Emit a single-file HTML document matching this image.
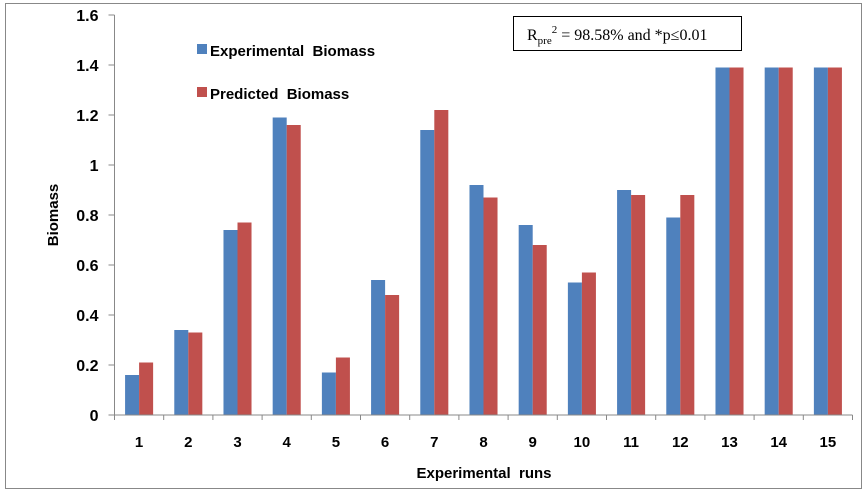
<!DOCTYPE html>
<html><head><meta charset="utf-8"><style>
body{margin:0;background:#fff;}
svg{display:block;font-family:"Liberation Sans",Arial,sans-serif;}
text{white-space:pre;}
</style></head><body>
<svg id="c" width="867" height="493">
<rect x="5.5" y="3.5" width="856" height="485" fill="#fff" stroke="#888" stroke-width="1"/>
<g id="plot"></g>
<g>
<rect x="197" y="44" width="10" height="10" fill="#4f81bd"/>
<text x="210" y="56" font-size="15" font-weight="bold">Experimental  Biomass</text>
<rect x="197" y="87" width="10" height="10" fill="#c0504d"/>
<text x="210" y="99" font-size="15" font-weight="bold">Predicted  Biomass</text>
</g>
<g>
<rect x="513.5" y="16.5" width="228" height="34" fill="#fff" stroke="#000"/>
<text x="527" y="40" font-size="16" font-family="Liberation Serif,serif">R<tspan font-size="11" dy="4">pre</tspan><tspan font-size="11" dy="-11">2</tspan><tspan dy="7"> = 98.58% and *p≤0.01</tspan></text>
</g>
<text x="0" y="0" transform="translate(58,215) rotate(-90)" text-anchor="middle" font-size="15" font-weight="bold">Biomass</text>
<text x="484" y="478" text-anchor="middle" font-size="15" font-weight="bold">Experimental  runs</text>
</svg>
<script>
const categories=["1","2","3","4","5","6","7","8","9","10","11","12","13","14","15"];
const experimental=[0.16,0.34,0.74,1.19,0.17,0.54,1.14,0.92,0.76,0.53,0.90,0.79,1.39,1.39,1.39];
const predicted=[0.21,0.33,0.77,1.16,0.23,0.48,1.22,0.87,0.68,0.57,0.88,0.88,1.39,1.39,1.39];
const yTicks=[0,0.2,0.4,0.6,0.8,1,1.2,1.4,1.6];
const yTickLabels=["0","0.2","0.4","0.6","0.8","1","1.2","1.4","1.6"];
const NS="http://www.w3.org/2000/svg";
const X0=114.5,X1=852.5,Y0=415,Y1=15,YMAX=1.6;
const bw=(X1-X0)/categories.length;
const ys=v=>Y0-(v/YMAX)*(Y0-Y1);
const g=document.getElementById('plot');
function mk(t,a){const e=document.createElementNS(NS,t);for(const k in a)e.setAttribute(k,a[k]);g.appendChild(e);return e;}
categories.forEach((c,i)=>{
 const x=X0+i*bw, w=bw*0.285, off=bw*0.215;
 const b1=mk('rect',{x:x+off,y:ys(experimental[i]),width:w,height:Y0-ys(experimental[i]),fill:'#4f81bd'});
 
 
 const b2=mk('rect',{x:x+off+w,y:ys(predicted[i]),width:w,height:Y0-ys(predicted[i]),fill:'#c0504d'});
 
 
 const t=mk('text',{x:x+bw/2,y:447,'text-anchor':'middle','font-size':15,'font-weight':'bold'});
 t.textContent=c;
 
 
});
for(let i=0;i<=categories.length;i++){const x=X0+i*bw;mk('line',{x1:x,x2:x,y1:Y0,y2:Y0+5,stroke:'#888'});}
yTicks.forEach((v,i)=>{
 mk('line',{x1:X0-6,x2:X0,y1:ys(v),y2:ys(v),stroke:'#888'});
 const t=mk('text',{x:X0-16,y:ys(v)+6,'text-anchor':'end','font-size':16,'font-weight':'bold'});
 t.textContent=yTickLabels[i];
 
 
});
const ya=mk('line',{x1:X0,x2:X0,y1:Y1,y2:Y0,stroke:'#888'});


const xa=mk('line',{x1:X0,x2:X1,y1:Y0,y2:Y0,stroke:'#888'});


</script>
</body></html>
